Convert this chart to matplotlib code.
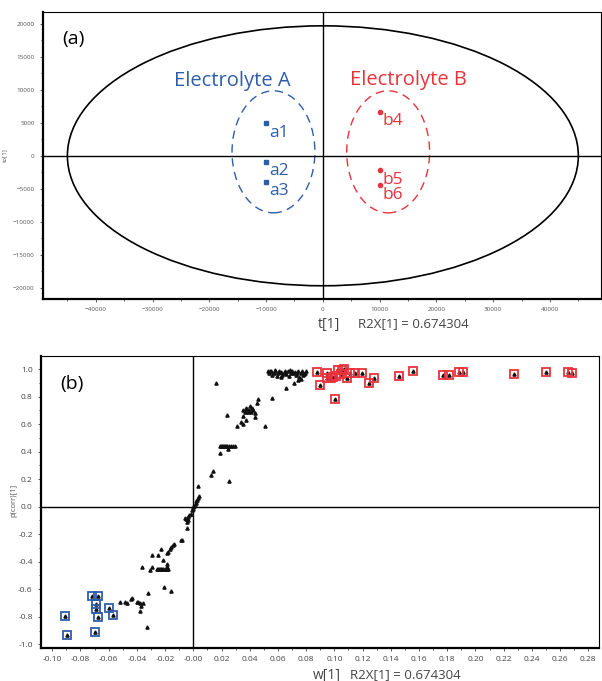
import matplotlib
matplotlib.use("Agg")
import matplotlib.pyplot as plt
from matplotlib.patches import Ellipse
from matplotlib.ticker import MultipleLocator, FormatStrFormatter

plt.rcParams['font.family'] = ['Open Sans', 'DejaVu Sans']

BLUE = "#2f5daa"
RED = "#e8333b"
GREY = "#555555"

# ---------------- Panel (a) data: scores ----------------
a_names = ["a1", "a2", "a3"]
a_t = [-10000, -10000, -10000]
a_to = [5000, -900, -3900]
b_names = ["b4", "b5", "b6"]
b_t = [10000, 10000, 10000]
b_to = [6700, -2200, -4500]
hotelling_axes = (45000, 19700)

# ---------------- Panel (b) data: S-plot ----------------
# black variables (w[1], p(corr)[1])
w_black = [
    # top cluster
    0.053, 0.054, 0.055, 0.056, 0.057, 0.058, 0.059, 0.060, 0.061, 0.062,
    0.063, 0.064, 0.065, 0.066, 0.067, 0.068, 0.069, 0.070, 0.071, 0.072,
    0.073, 0.074, 0.075, 0.076, 0.077, 0.078, 0.079, 0.080, 0.058, 0.062,
    0.066, 0.056, 0.0716, 0.0745, 0.0765, 0.0545, 0.0605, 0.0685, 0.0735, 0.0785,
    # upper middle
    0.0158, 0.024, 0.0313, 0.0507, 0.046, 0.0453, 0.040, 0.035, 0.0365, 0.038,
    0.0395, 0.041, 0.0425, 0.0436, 0.037, 0.039, 0.035, 0.0435, 0.0376, 0.034,
    0.0355, 0.0415,
    # 0.44 line
    0.0188, 0.0195, 0.0202, 0.021, 0.0218, 0.0225, 0.0232, 0.024, 0.0255, 0.027,
    0.0282, 0.0294, 0.0247, 0.0188,
    # lower middle
    0.0253, 0.0137, 0.0125, 0.0035, 0.004, 0.0034, 0.0028, 0.0022, 0.0016, 0.001,
    0.0005, 0.0, -0.0005, -0.001,
    # around and below zero
    -0.002, -0.003, -0.004, -0.005, -0.006, -0.0035, -0.0045, -0.0048, -0.008,
    -0.0084, -0.0138, -0.0143, -0.0155, -0.0167, -0.0179, -0.0186, -0.0226, -0.0296,
    -0.025, -0.0214, -0.019, -0.019,
    # -0.45 line
    -0.026, -0.0252, -0.0244, -0.0236, -0.0228, -0.022, -0.0212, -0.0204, -0.0196,
    -0.0188, -0.0179, -0.0367, -0.0292, -0.0304,
    # lower left
    -0.0207, -0.0155, -0.032, -0.052, -0.0486, -0.0467, -0.0445, -0.0438, -0.0402,
    -0.039, -0.0376, -0.0357, -0.0372, -0.0379, -0.0329,
]
p_black = [
    0.985, 0.970, 0.990, 0.960, 0.975, 0.985, 0.950, 0.970, 0.990, 0.980,
    0.960, 0.975, 0.990, 0.965, 0.985, 0.950, 0.975, 0.990, 0.970, 0.980,
    0.955, 0.985, 0.940, 0.970, 0.990, 0.960, 0.975, 0.985, 0.995, 0.945,
    0.863, 0.793, 0.897, 0.920, 0.930, 0.990, 0.980, 0.995, 0.970, 0.965,
    0.897, 0.664, 0.587, 0.587, 0.781, 0.752, 0.735, 0.700, 0.690, 0.710,
    0.700, 0.690, 0.705, 0.680, 0.715, 0.685, 0.660, 0.650, 0.630, 0.615,
    0.600, 0.720,
    0.445, 0.445, 0.445, 0.445, 0.445, 0.445, 0.445, 0.445, 0.445, 0.445,
    0.445, 0.445, 0.417, 0.388,
    0.189, 0.257, 0.230, 0.150, 0.078, 0.063, 0.050, 0.038, 0.026, 0.014,
    0.005, -0.005, -0.015, -0.024,
    -0.050, -0.060, -0.075, -0.090, -0.080, -0.100, -0.110, -0.153, -0.242,
    -0.240, -0.270, -0.280, -0.295, -0.310, -0.327, -0.339, -0.310, -0.351,
    -0.351, -0.388, -0.417, -0.436,
    -0.450, -0.450, -0.450, -0.450, -0.450, -0.450, -0.450, -0.450, -0.450,
    -0.450, -0.450, -0.440, -0.440, -0.460,
    -0.582, -0.611, -0.625, -0.695, -0.693, -0.698, -0.673, -0.666, -0.695,
    -0.690, -0.700, -0.700, -0.720, -0.759, -0.878,
]
# variables boxed in red (higher in Electrolyte B)
w_red = [0.0874, 0.0945, 0.0897, 0.0945, 0.0973, 0.0991, 0.1008, 0.1027, 0.1055,
         0.107, 0.105, 0.1087, 0.111, 0.1145, 0.1193, 0.1004, 0.1247, 0.128,
         0.146, 0.156, 0.177, 0.181, 0.188, 0.191, 0.2274, 0.2499, 0.2655, 0.2683]
p_red = [0.982, 0.975, 0.885, 0.934, 0.934, 0.945, 0.950, 0.995, 0.995,
         1.000, 0.965, 0.934, 0.975, 0.975, 0.975, 0.781, 0.902, 0.934,
         0.953, 0.987, 0.958, 0.958, 0.982, 0.982, 0.967, 0.979, 0.979, 0.970]
# variables boxed in blue (higher in Electrolyte A)
w_blue = [-0.091, -0.0893, -0.0717, -0.0674, -0.0688, -0.0688, -0.0674, -0.0695,
          -0.0598, -0.0571]
p_blue = [-0.795, -0.934, -0.649, -0.649, -0.707, -0.746, -0.805, -0.910,
          -0.737, -0.785]

r2x_text = "R2X[1] = 0.674304"

fig = plt.figure(figsize=(6.02, 6.81), dpi=100)

# ================= Panel (a) =================
ax1 = fig.add_axes([0.0714, 0.561, 0.927, 0.4214])
ax1.set_xlim(-49300, 49000)
ax1.set_ylim(-21700, 21800)
ax1.add_patch(Ellipse((0, 0), 2 * hotelling_axes[0], 2 * hotelling_axes[1],
                      fill=False, ec="black", lw=1.2))
ax1.axhline(0, color="black", lw=1.0)
ax1.axvline(0, color="black", lw=1.0)
ax1.add_patch(Ellipse((-8700, 600), 14600, 18500, fill=False, ec=BLUE, lw=1.0,
                      ls=(0, (6, 4))))
ax1.add_patch(Ellipse((11500, 600), 14600, 18500, fill=False, ec=RED, lw=1.0,
                      ls=(0, (6, 4))))
ax1.plot(a_t, a_to, ls="none", marker="s", ms=2.6, color=BLUE)
ax1.plot(b_t, b_to, ls="none", marker="o", ms=3.0, color=RED)
for n, x, y in zip(a_names, a_t, a_to):
    ax1.annotate(n, (x, y), xytext=(2, -7), textcoords="offset points",
                 ha="left", va="center", fontsize=12.5, color=BLUE)
for n, x, y in zip(b_names, b_t, b_to):
    ax1.annotate(n, (x, y), xytext=(2, -7), textcoords="offset points",
                 ha="left", va="center", fontsize=12.5, color=RED)
ax1.text(-16000, 11400, "Electrolyte A", ha="center", va="center",
         fontsize=14.5, color=BLUE)
ax1.text(15000, 11500, "Electrolyte B", ha="center", va="center",
         fontsize=14.5, color=RED)
ax1.text(0.035, 0.905, "(a)", transform=ax1.transAxes, fontsize=14,
         ha="left", va="center")
ax1.xaxis.set_major_locator(MultipleLocator(10000))
ax1.xaxis.set_minor_locator(MultipleLocator(5000))
ax1.yaxis.set_major_locator(MultipleLocator(5000))
ax1.yaxis.set_minor_locator(MultipleLocator(2500))
ax1.tick_params(which="both", direction="out", labelsize=4.5, labelcolor=GREY,
                color="#444444", width=0.6)
ax1.tick_params(which="major", length=2.5)
ax1.tick_params(which="minor", length=1.5)
for s in ["left", "bottom"]:
    ax1.spines[s].set_linewidth(1.6)
for s in ["top", "right"]:
    ax1.spines[s].set_linewidth(0.8)
ax1.set_ylabel("to[1]", fontsize=4.5, color=GREY, labelpad=4)
fig.text(318 / 602, 1 - 325 / 681, "t[1]", fontsize=10, color="#444444",
         ha="left", va="center")
fig.text(358 / 602, 1 - 324 / 681, r2x_text, fontsize=9.5, color="#444444",
         ha="left", va="center")

# ================= Panel (b) =================
ax2 = fig.add_axes([0.0681, 0.0485, 0.9269, 0.4288])
ax2.set_xlim(-0.108, 0.2876)
ax2.set_ylim(-1.027, 1.096)
ax2.axhline(0, color="black", lw=1.0)
ax2.axvline(0, color="black", lw=1.0)
ax2.plot(w_black, p_black, ls="none", marker="^", ms=2.3, color="#111111")
ax2.plot(w_red, p_red, ls="none", marker="^", ms=2.3, color="#111111")
ax2.plot(w_blue, p_blue, ls="none", marker="^", ms=2.3, color="#111111")
ax2.plot(w_red, p_red, ls="none", marker="s", ms=6.3, mfc="none", mec=RED,
         mew=1.3)
ax2.plot(w_blue, p_blue, ls="none", marker="s", ms=6.3, mfc="none", mec=BLUE,
         mew=1.3)
ax2.text(0.035, 0.905, "(b)", transform=ax2.transAxes, fontsize=14,
         ha="left", va="center")
ax2.xaxis.set_major_locator(MultipleLocator(0.02))
ax2.xaxis.set_minor_locator(MultipleLocator(0.01))
ax2.yaxis.set_major_locator(MultipleLocator(0.2))
ax2.yaxis.set_minor_locator(MultipleLocator(0.1))
ax2.xaxis.set_major_formatter(FormatStrFormatter("%.2f"))
ax2.yaxis.set_major_formatter(FormatStrFormatter("%.1f"))
ax2.tick_params(which="both", direction="out", labelsize=6, labelcolor="#444444",
                color="#444444", width=0.6)
ax2.tick_params(which="major", length=2.5)
ax2.tick_params(which="minor", length=1.5)
for s in ["left", "bottom"]:
    ax2.spines[s].set_linewidth(1.6)
for s in ["top", "right"]:
    ax2.spines[s].set_linewidth(0.8)
fig.text(14 / 602, 1 - 500 / 681, "p(corr)[1]", fontsize=5.5, color=GREY,
         rotation=90, ha="center", va="center")
fig.text(313 / 602, 1 - 675 / 681, "w[1]", fontsize=10, color="#444444",
         ha="left", va="center")
fig.text(350 / 602, 1 - 675 / 681, r2x_text, fontsize=9.5, color="#444444",
         ha="left", va="center")

fig.savefig("out.png", dpi=100)
